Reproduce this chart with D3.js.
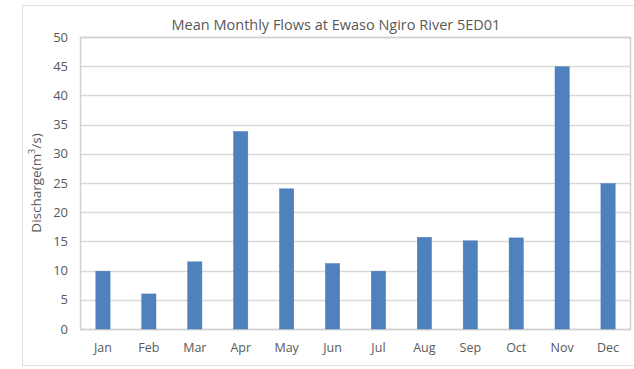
<!DOCTYPE html>
<html>
<head>
<meta charset="utf-8">
<script src="https://cdn.jsdelivr.net/npm/d3@7"></script>
<style>
  html, body { margin: 0; padding: 0; background: #fff; }
  svg { display: block; font-family: "Open Sans", "Noto Sans", sans-serif; }
</style>
</head>
<body>
<svg id="chart" width="634" height="369"></svg>
<script>
// Mean monthly discharge, Ewaso Ngiro River gauge 5ED01 (m³/s)
const months = ["Jan", "Feb", "Mar", "Apr", "May", "Jun", "Jul", "Aug", "Sep", "Oct", "Nov", "Dec"];
const discharge = [9.9, 6.0, 11.5, 33.8, 24.0, 11.2, 9.9, 15.7, 15.1, 15.6, 44.9, 24.9];
const yTicks = [0, 5, 10, 15, 20, 25, 30, 35, 40, 45, 50];

const svg = d3.select("#chart");
const W = 634, H = 369;
const plot = { left: 80, right: 631, top: 37, bottom: 329 };
const textColor = "#595959";
const gridColor = "#d9d9d9";

// outer chart border
svg.append("rect")
  .attr("x", 22.5).attr("y", 5.5)
  .attr("width", W - 22).attr("height", 360)
  .attr("fill", "#fff").attr("stroke", "#e0e0e0").attr("stroke-width", 1);

const x = d3.scaleBand().domain(months).range([plot.left, plot.right]).paddingInner(0.69).paddingOuter(0.345);
const y = d3.scaleLinear().domain([0, 50]).range([plot.bottom, plot.top]);

// horizontal gridlines
svg.append("g")
  .selectAll("line")
  .data(yTicks)
  .join("line")
  .attr("x1", plot.left).attr("x2", plot.right)
  .attr("y1", d => Math.round(y(d)) + 0.5).attr("y2", d => Math.round(y(d)) + 0.5)
  .attr("stroke", gridColor).attr("stroke-width", 1.5);

// plot area frame
svg.append("rect")
  .attr("x", plot.left + 0.5).attr("y", plot.top + 0.5)
  .attr("width", plot.right - plot.left - 1).attr("height", plot.bottom - plot.top)
  .attr("fill", "none").attr("stroke", "#d0d0d0").attr("stroke-width", 1.5);

// bars
svg.append("g")
  .selectAll("rect")
  .data(months.map((m, i) => ({ m, v: discharge[i] })))
  .join("rect")
  .attr("x", d => x(d.m))
  .attr("width", x.bandwidth())
  .attr("y", d => y(d.v))
  .attr("height", d => y(0) - y(d.v))
  .attr("fill", "#4f81bd")
  .attr("stroke", "#4a7bb5").attr("stroke-width", 0.5);

// y axis labels
const yAxis = d3.axisLeft(y).tickValues(yTicks).tickSize(0).tickPadding(0);
const gy = svg.append("g").attr("transform", `translate(${plot.left - 12},0)`).call(yAxis);
gy.select(".domain").remove();
gy.selectAll("text").attr("fill", textColor).style("font-size", "13px").style("font-family", "Open Sans, sans-serif");

// x axis labels
const xAxis = d3.axisBottom(x).tickSize(0).tickPadding(0);
const gx = svg.append("g").attr("transform", `translate(0,${plot.bottom + 14})`).call(xAxis);
gx.select(".domain").remove();
gx.selectAll("text").attr("fill", textColor).style("font-size", "12.5px").style("font-family", "Open Sans, sans-serif");

// title
svg.append("text")
  .attr("x", 336).attr("y", 30)
  .attr("text-anchor", "middle")
  .attr("fill", textColor)
  .style("font-size", "14.5px")
  .text("Mean Monthly Flows at Ewaso Ngiro River 5ED01");

// y axis title
const yt = svg.append("text")
  .attr("transform", `translate(41,${(plot.top + plot.bottom) / 2}) rotate(-90)`)
  .attr("text-anchor", "middle")
  .attr("fill", textColor)
  .style("font-size", "13.5px");
yt.append("tspan").text("Discharge(m");
yt.append("tspan").attr("baseline-shift", "super").style("font-size", "9px").text("3");
yt.append("tspan").text("/s)");
</script>
</body>
</html>
